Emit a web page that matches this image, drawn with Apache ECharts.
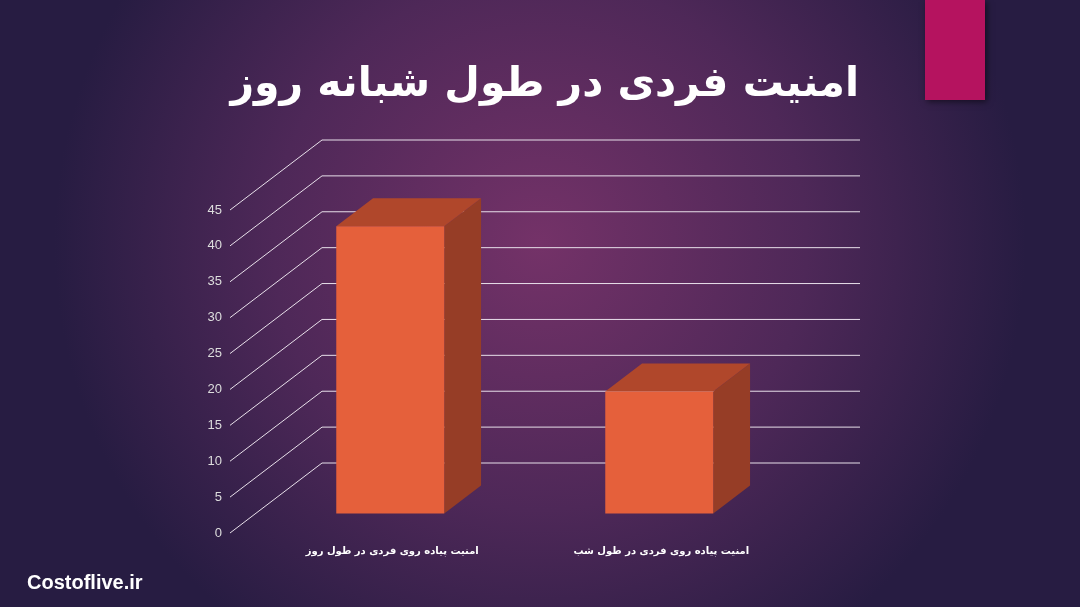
<!DOCTYPE html>
<html><head><meta charset="utf-8">
<script src="https://cdn.jsdelivr.net/npm/echarts@6/dist/echarts.min.js"></script>
<style>html,body{margin:0;padding:0;}#c{width:1080px;height:607px;}</style>
</head><body><div id="c"></div>
<script>
var categories = ['امنیت پیاده روی فردی در طول روز', 'امنیت پیاده روی فردی در طول شب'];
var values = [40, 17];
var ticks = [0, 5, 10, 15, 20, 25, 30, 35, 40, 45];

var DX = 92, DY = -70;      // depth of the back wall
var chart = echarts.init(document.getElementById('c'));
chart.setOption({
  backgroundColor: {
    type: 'radial', x: 0.5, y: 0.4, r: 0.8,
    colorStops: [{offset: 0, color: '#743268'}, {offset: 0.55, color: '#4e2858'}, {offset: 1, color: '#271c42'}]
  },
  title: {
    text: 'امنیت فردی در طول شبانه روز', right: 216, top: 60,
    textStyle: {color: '#fff', fontSize: 41, fontWeight: 'bold', fontFamily: 'DejaVu Sans'}
  },
  graphic: [
    {type: 'rect', shape: {x: 925, y: 0, width: 60, height: 100},
     style: {fill: '#b5135f', shadowBlur: 6, shadowColor: 'rgba(0,0,0,0.5)', shadowOffsetX: 2, shadowOffsetY: 2}},
    {type: 'text', left: 27, top: 573,
     style: {text: 'Costoflive.ir', fill: '#fff', font: 'bold 20px Arial'}}
  ],
  grid: {left: 230, right: 312, top: 210, bottom: 74},
  xAxis: {type: 'category', data: categories, axisLine: {show: false}, axisTick: {show: false}, axisLabel: {show: false}},
  yAxis: {
    type: 'value', min: 0, max: 45, interval: 5,
    axisLabel: {color: '#ddd', fontSize: 13, margin: 8},
    splitLine: {show: false}, axisLine: {show: false}
  },
  series: [
    {
      type: 'custom', silent: true, data: ticks.map(function (t) { return [0, t]; }),
      renderItem: function (params, api) {
        var p = api.coord([categories[0], api.value(1)]);
        var x0 = params.coordSys.x, x1 = x0 + params.coordSys.width;
        var y = p[1];
        var ls = {stroke: '#e8e0ea', lineWidth: 1};
        return {type: 'group', children: [
          {type: 'line', shape: {x1: x0, y1: y, x2: x0 + DX, y2: y + DY}, style: ls},
          {type: 'line', shape: {x1: x0 + DX, y1: y + DY, x2: x1 + DX, y2: y + DY}, style: ls}
        ]};
      }
    },
    {
      type: 'custom', data: values.map(function (v, i) { return [i, v]; }),
      renderItem: function (params, api) {
        var base = api.coord([api.value(0), 0]);
        var top = api.coord([api.value(0), api.value(1)]);
        var f = 0.28, d = 0.4, w = 108;
        var ox = DX * f, oy = DY * f, ddx = DX * d, ddy = DY * d;
        var xl = base[0] - w / 2 + ox, xr = xl + w;
        var yb = base[1] + oy, yt = top[1] + oy;
        return {type: 'group', children: [
          {type: 'polygon', shape: {points: [[xr, yb], [xr + ddx, yb + ddy], [xr + ddx, yt + ddy], [xr, yt]]}, style: {fill: '#963d26'}},
          {type: 'polygon', shape: {points: [[xl, yt], [xr, yt], [xr + ddx, yt + ddy], [xl + ddx, yt + ddy]]}, style: {fill: '#b0472b'}},
          {type: 'rect', shape: {x: xl, y: yt, width: w, height: yb - yt}, style: {fill: '#e5603b'}},
          {type: 'text', x: xl + w / 2 + 2, y: base[1] + 18,
           style: {text: categories[api.value(0)], fill: '#fff', font: 'bold 10px "DejaVu Sans"', align: 'center', verticalAlign: 'middle'}}
        ]};
      }
    }
  ]
});
</script></body></html>
